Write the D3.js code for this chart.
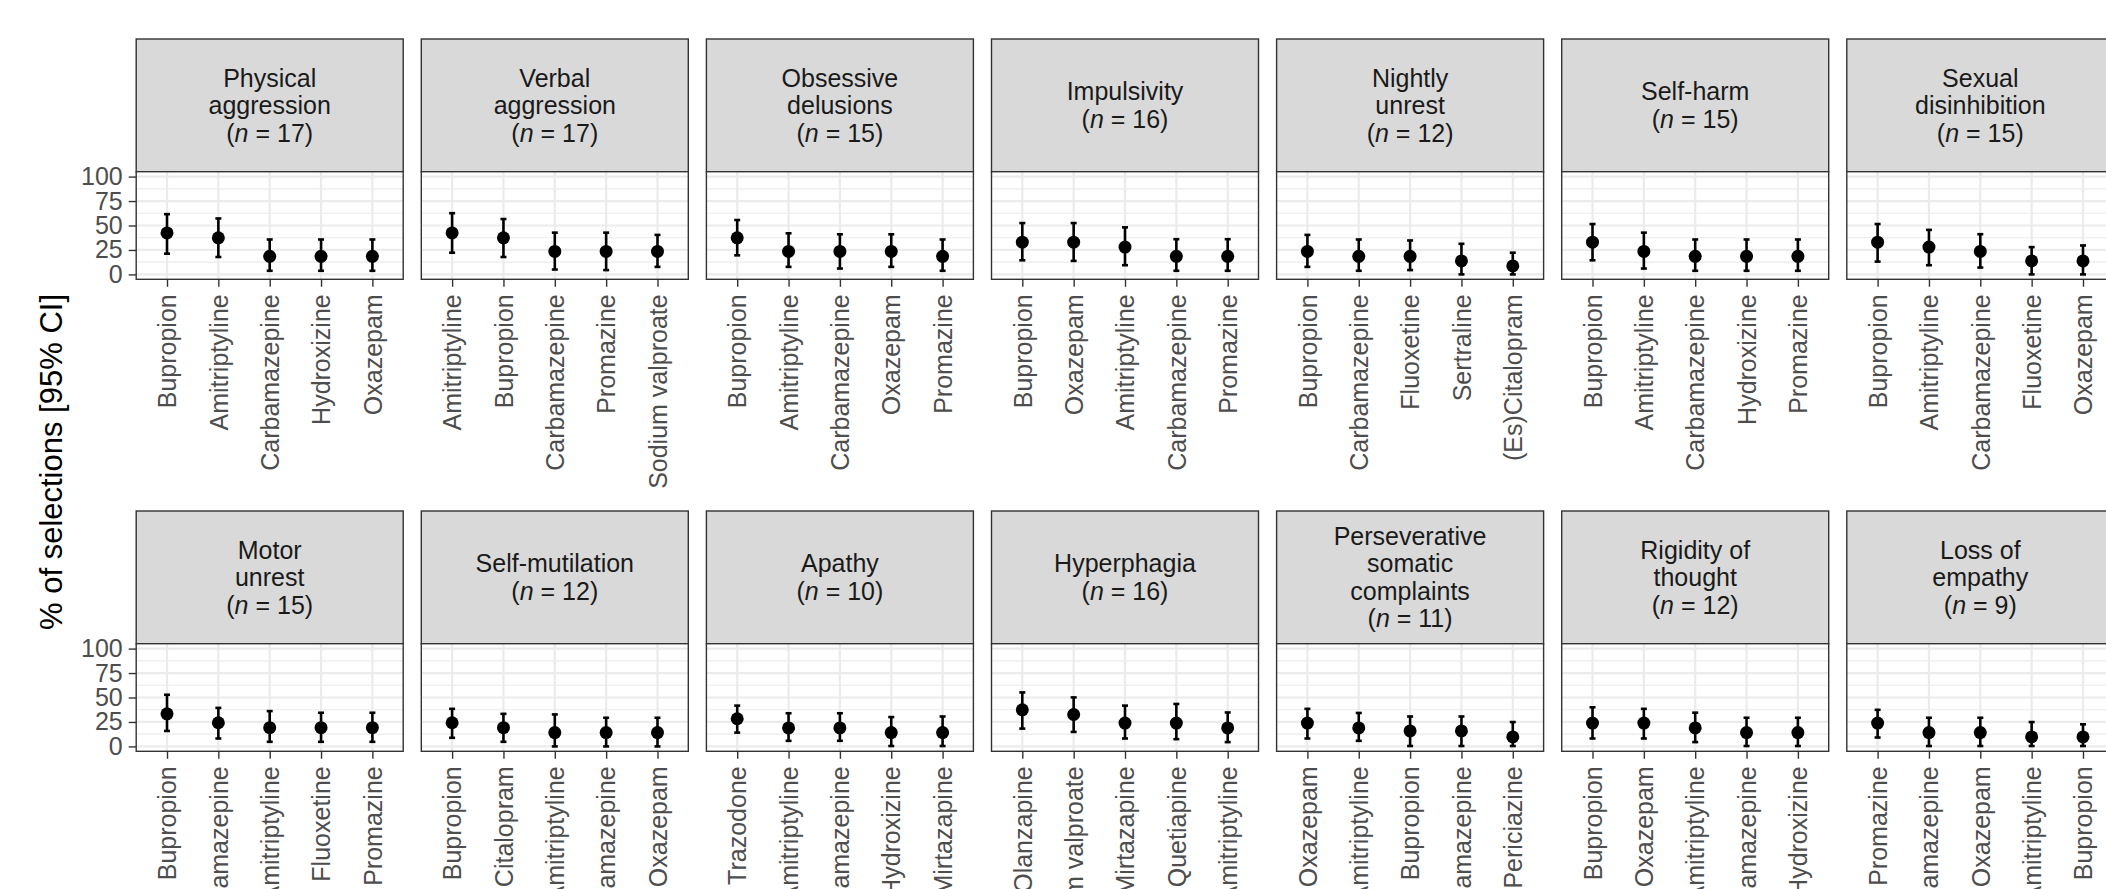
<!DOCTYPE html>
<html>
<head>
<meta charset="utf-8">
<script src="https://cdn.jsdelivr.net/npm/d3@7"></script>
<style>
  body { margin: 0; background: #fff; }
  svg { display: block; font-family: "Liberation Sans", Arial, Helvetica, sans-serif; }
</style>
</head>
<body>
<svg id="chart" width="2106" height="889"></svg>
<script>
// Facet titles (one entry per strip line) and group sizes
const facetTitles = [
  ["Physical", "aggression"], ["Verbal", "aggression"], ["Obsessive", "delusions"],
  ["Impulsivity"], ["Nightly", "unrest"], ["Self-harm"], ["Sexual", "disinhibition"],
  ["Motor", "unrest"], ["Self-mutilation"], ["Apathy"], ["Hyperphagia"],
  ["Perseverative", "somatic", "complaints"], ["Rigidity of", "thought"], ["Loss of", "empathy"]
];
const facetN = [17, 17, 15, 16, 12, 15, 15, 15, 12, 10, 16, 11, 12, 9];

// Five most selected drugs per behaviour
const drugs = [
  ["Bupropion", "Amitriptyline", "Carbamazepine", "Hydroxizine", "Oxazepam"],
  ["Amitriptyline", "Bupropion", "Carbamazepine", "Promazine", "Sodium valproate"],
  ["Bupropion", "Amitriptyline", "Carbamazepine", "Oxazepam", "Promazine"],
  ["Bupropion", "Oxazepam", "Amitriptyline", "Carbamazepine", "Promazine"],
  ["Bupropion", "Carbamazepine", "Fluoxetine", "Sertraline", "(Es)Citalopram"],
  ["Bupropion", "Amitriptyline", "Carbamazepine", "Hydroxizine", "Promazine"],
  ["Bupropion", "Amitriptyline", "Carbamazepine", "Fluoxetine", "Oxazepam"],
  ["Bupropion", "Carbamazepine", "Amitriptyline", "Fluoxetine", "Promazine"],
  ["Bupropion", "Citalopram", "Amitriptyline", "Carbamazepine", "Oxazepam"],
  ["Trazodone", "Amitriptyline", "Carbamazepine", "Hydroxizine", "Mirtazapine"],
  ["Olanzapine", "Sodium valproate", "Mirtazapine", "Quetiapine", "Amitriptyline"],
  ["Oxazepam", "Amitriptyline", "Bupropion", "Carbamazepine", "Periciazine"],
  ["Bupropion", "Oxazepam", "Amitriptyline", "Carbamazepine", "Hydroxizine"],
  ["Promazine", "Carbamazepine", "Oxazepam", "Amitriptyline", "Bupropion"]
];

// % of selections with lower / upper 95% CI bounds
const pct = [
  [42.4, 37.4, 18.5, 18.5, 18.5],
  [42.4, 37.4, 23.5, 23.5, 23.5],
  [37.4, 23.5, 23.5, 23.5, 18.5],
  [33.0, 33.0, 27.9, 18.5, 18.5],
  [23.5, 18.5, 18.5, 13.8, 8.7],
  [33.0, 23.5, 18.5, 18.5, 18.5],
  [33.0, 27.9, 23.5, 13.8, 13.8],
  [33.3, 24.2, 19.2, 19.2, 19.2],
  [24.2, 19.2, 14.1, 14.1, 14.1],
  [28.3, 18.9, 18.9, 14.1, 14.1],
  [37.4, 32.6, 23.9, 23.9, 18.9],
  [23.9, 18.9, 15.8, 15.8, 9.7],
  [23.9, 23.9, 18.9, 14.1, 14.1],
  [23.9, 14.1, 14.1, 9.7, 9.7]
];
const ciLow = [
  [21.2, 17.8, 3.7, 3.7, 3.7],
  [22.2, 17.8, 5.0, 4.4, 7.7],
  [19.5, 7.7, 6.0, 7.7, 3.7],
  [14.4, 13.8, 9.4, 3.7, 3.7],
  [7.7, 3.7, 4.4, 0.0, 0.0],
  [14.4, 6.0, 3.7, 3.7, 3.7],
  [13.1, 9.4, 7.0, 0.0, 0.0],
  [15.8, 8.1, 4.7, 4.7, 4.7],
  [8.8, 4.7, 0.0, 0.0, 0.0],
  [14.1, 5.7, 5.7, 0.4, 0.4],
  [18.2, 14.8, 8.1, 7.4, 4.4],
  [8.1, 5.7, 0.4, 0.4, 0.4],
  [8.1, 8.1, 4.4, 0.4, 0.4],
  [9.1, 0.4, 0.4, 0.4, 0.4]
];
const ciHigh = [
  [61.6, 57.2, 35.7, 35.7, 35.7],
  [62.6, 56.6, 42.7, 42.7, 40.4],
  [55.6, 42.0, 41.0, 41.0, 35.7],
  [52.5, 52.5, 48.1, 36.0, 36.0],
  [40.4, 35.7, 34.7, 31.3, 22.2],
  [51.5, 42.7, 35.7, 35.7, 35.7],
  [51.5, 45.5, 41.1, 27.9, 29.6],
  [52.8, 39.4, 36.1, 34.4, 34.4],
  [38.4, 33.3, 32.7, 29.3, 29.3],
  [41.7, 33.9, 33.9, 30.0, 30.6],
  [55.2, 50.1, 41.7, 43.4, 34.7],
  [38.4, 34.2, 30.6, 30.6, 24.9],
  [40.0, 38.4, 34.5, 29.3, 29.3],
  [37.4, 29.3, 29.3, 24.9, 22.6]
];

const yTicks = [0, 25, 50, 75, 100];
const yMinor = [12.5, 37.5, 62.5, 87.5];
const axisTitle = "% of selections [95% CI]";

// ---- layout ----
const nCols = 7;
const left0 = 136.2, colPitch = 285.1, panelW = 267;
const rowTop = [39, 511];
const stripH = 132.7, panelH = 107.6;
const lineGap = 27.5;
const fontSize = 25;

const svg = d3.select("#chart");
const y = d3.scaleLinear().domain([-5, 105]).range([panelH, 0]);

facetTitles.forEach((title, i) => {
  const row = Math.floor(i / nCols), col = i % nCols;
  const g = svg.append("g")
    .attr("transform", `translate(${left0 + col * colPitch},${rowTop[row]})`);

  // strip
  g.append("rect")
    .attr("x", 0).attr("y", 0).attr("width", panelW).attr("height", stripH)
    .attr("fill", "#D9D9D9").attr("stroke", "#333").attr("stroke-width", 1.4);

  const lines = title.concat([null]);
  const L = lines.length;
  lines.forEach((ln, k) => {
    const t = g.append("text")
      .attr("x", panelW / 2)
      .attr("y", stripH / 2 + (k - (L - 1) / 2) * lineGap)
      .attr("dy", "0.35em")
      .attr("text-anchor", "middle")
      .attr("font-size", fontSize)
      .attr("fill", "#1A1A1A");
    if (ln === null) {
      t.append("tspan").text("(");
      t.append("tspan").attr("font-style", "italic").text("n");
      t.append("tspan").text(` = ${facetN[i]})`);
    } else {
      t.text(ln);
    }
  });

  // panel
  const p = g.append("g").attr("transform", `translate(0,${stripH})`);
  const x = d3.scalePoint().domain(drugs[i]).range([0, panelW]).padding(0.6);

  p.append("rect").attr("width", panelW).attr("height", panelH).attr("fill", "#fff");

  p.selectAll("line.minor").data(yMinor).join("line")
    .attr("x1", 0).attr("x2", panelW)
    .attr("y1", d => y(d)).attr("y2", d => y(d))
    .attr("stroke", "#EBEBEB").attr("stroke-width", 1.2);
  p.selectAll("line.major").data(yTicks).join("line")
    .attr("x1", 0).attr("x2", panelW)
    .attr("y1", d => y(d)).attr("y2", d => y(d))
    .attr("stroke", "#EBEBEB").attr("stroke-width", 2.2);
  p.selectAll("line.vgrid").data(drugs[i]).join("line")
    .attr("x1", d => x(d)).attr("x2", d => x(d))
    .attr("y1", 0).attr("y2", panelH)
    .attr("stroke", "#EBEBEB").attr("stroke-width", 2.2);

  // error bars
  const rows = drugs[i].map((d, j) => ({ d, v: pct[i][j], lo: ciLow[i][j], hi: ciHigh[i][j] }));
  const cap = 3;
  const eb = p.selectAll("g.eb").data(rows).join("g");
  eb.append("line")
    .attr("x1", r => x(r.d)).attr("x2", r => x(r.d))
    .attr("y1", r => y(r.lo)).attr("y2", r => y(r.hi))
    .attr("stroke", "#000").attr("stroke-width", 2.6);
  eb.append("line")
    .attr("x1", r => x(r.d) - cap).attr("x2", r => x(r.d) + cap)
    .attr("y1", r => y(r.lo)).attr("y2", r => y(r.lo))
    .attr("stroke", "#000").attr("stroke-width", 2.6);
  eb.append("line")
    .attr("x1", r => x(r.d) - cap).attr("x2", r => x(r.d) + cap)
    .attr("y1", r => y(r.hi)).attr("y2", r => y(r.hi))
    .attr("stroke", "#000").attr("stroke-width", 2.6);
  eb.append("circle")
    .attr("cx", r => x(r.d)).attr("cy", r => y(r.v)).attr("r", 6.5)
    .attr("fill", "#000");

  p.append("rect").attr("width", panelW).attr("height", panelH)
    .attr("fill", "none").attr("stroke", "#333").attr("stroke-width", 1.4);

  // x axis
  const xa = p.append("g").attr("transform", `translate(0,${panelH})`)
    .call(d3.axisBottom(x).tickSize(7.5).tickPadding(7));
  xa.select(".domain").remove();
  xa.selectAll(".tick line").attr("stroke", "#333").attr("stroke-width", 1.4);
  xa.selectAll(".tick text")
    .attr("font-size", fontSize).attr("font-family", null).attr("fill", "#4D4D4D")
    .attr("transform", "rotate(-90)")
    .attr("text-anchor", "end")
    .attr("x", -15).attr("y", 0).attr("dy", "0.35em");

  // y axis on the first column
  if (col === 0) {
    const ya = p.append("g")
      .call(d3.axisLeft(y).tickValues(yTicks).tickSize(7.5).tickPadding(6));
    ya.select(".domain").remove();
    ya.selectAll(".tick line").attr("stroke", "#333").attr("stroke-width", 1.4);
    ya.selectAll(".tick text")
      .attr("font-size", fontSize).attr("font-family", null).attr("fill", "#4D4D4D");
  }
});

svg.append("text")
  .attr("transform", "translate(62,462) rotate(-90)")
  .attr("text-anchor", "middle")
  .attr("font-size", 31)
  .attr("fill", "#000")
  .text(axisTitle);
</script>
</body>
</html>
